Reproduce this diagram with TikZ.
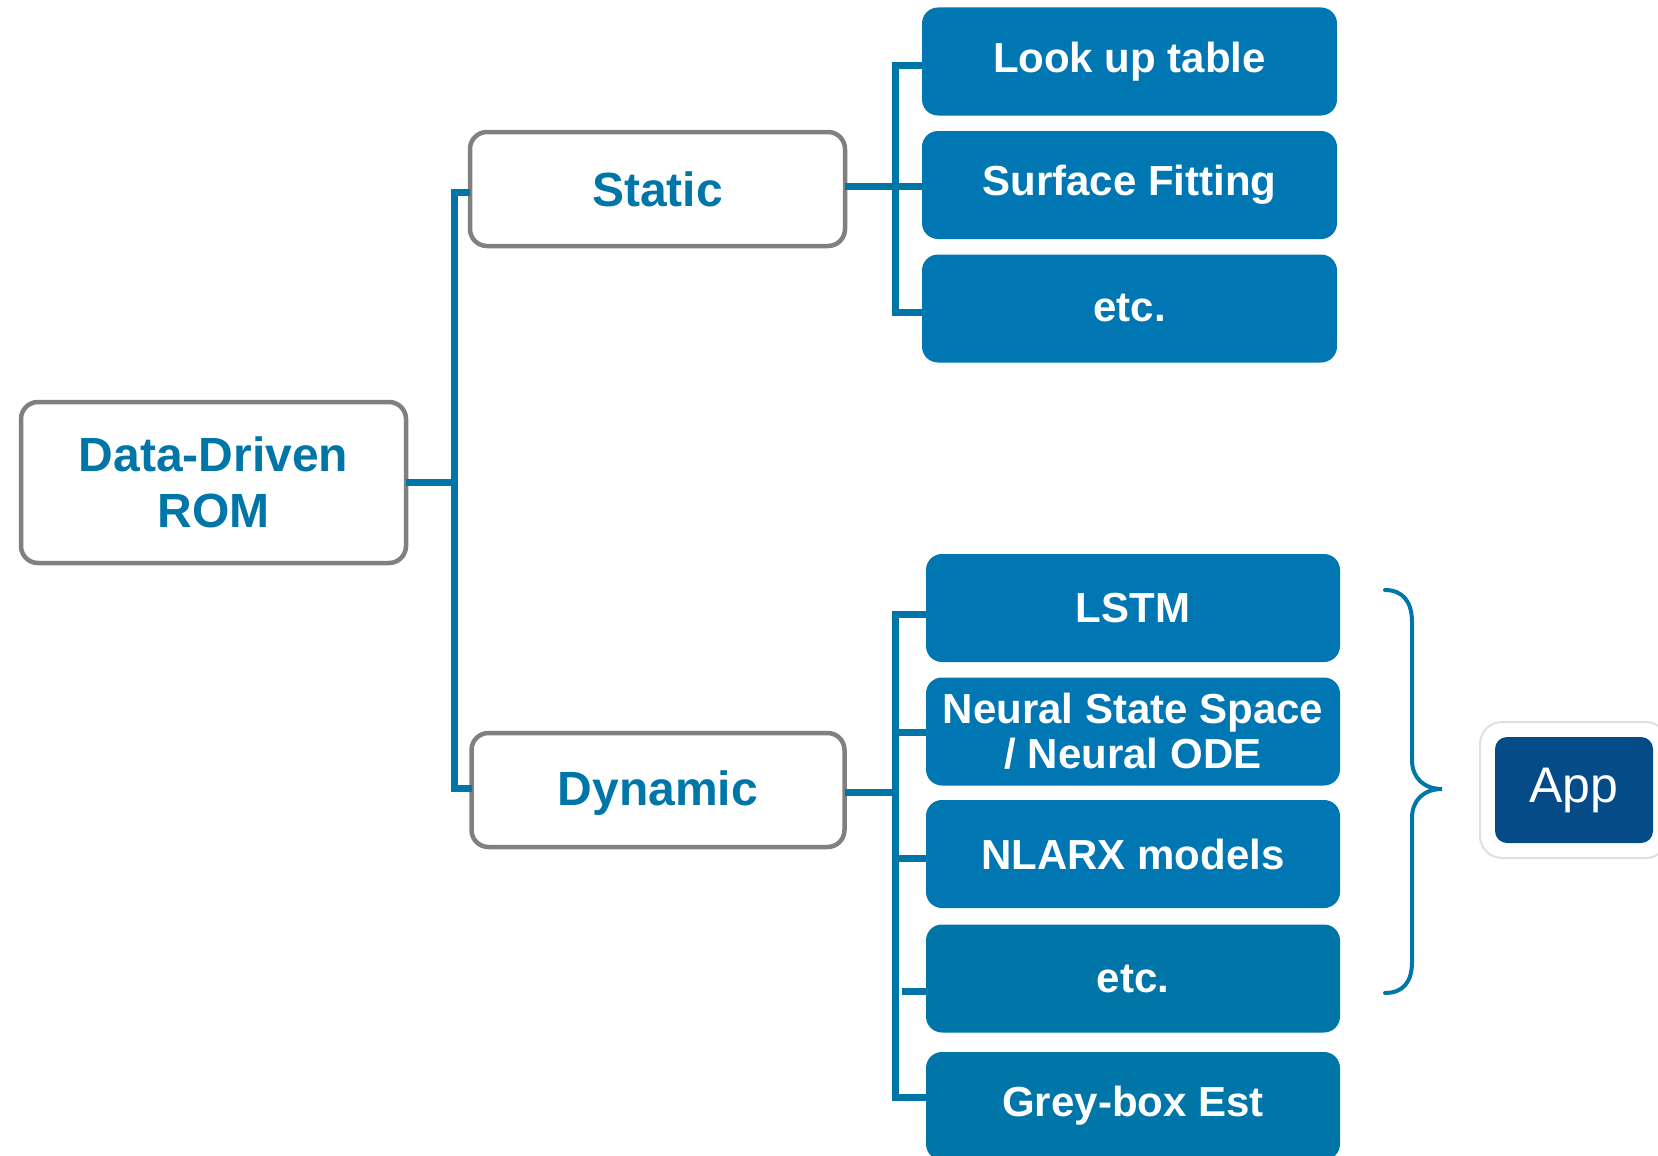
\documentclass[tikz,border=0pt]{standalone}
\usepackage{fontspec}
\setmainfont{Liberation Sans}
\definecolor{boxblue}{HTML}{0077B3}
\definecolor{boxblueb}{HTML}{0076A8}
\definecolor{txtblue}{HTML}{0076A8}
\definecolor{linblue}{HTML}{0076A8}
\definecolor{appblue}{HTML}{054B88}
\definecolor{bordergray}{HTML}{808080}
\begin{document}
\begin{tikzpicture}[x=1pt,y=-1pt,
  whitebox/.style={draw=bordergray, line width=4.5pt, fill=white, rounded corners=17pt,
    text=txtblue, font=\fontsize{48}{56}\selectfont\bfseries, align=center,
    inner sep=0pt, outer sep=0pt},
  bluebox/.style={fill=boxblue, rounded corners=16pt, text=white,
    font=\fontsize{42}{45}\selectfont\bfseries, align=center,
    minimum width=415pt, minimum height=108pt, inner sep=0pt, outer sep=0pt},
  conn/.style={draw=linblue, line width=7pt},
  bracecurve/.style={draw=linblue, line width=4pt, line cap=round}
]
\clip (0,0) rectangle (1658,1156);
\fill[white] (0,0) rectangle (1658,1156);

% root and level 1
\node[whitebox, minimum width=385pt, minimum height=161pt] (ddr) at (213.5,482.5) {Data-Driven\\ROM};
\node[whitebox, minimum width=375pt, minimum height=114pt] (static) at (657.5,189) {Static};
\node[whitebox, minimum width=373pt, minimum height=114pt, text height=40pt, text depth=10pt] (dynamic) at (658,790) {Dynamic};

% static children
\node[bluebox] (lut) at (1129.5,61.5) {Look up table};
\node[bluebox] (sf) at (1129.5,185) {Surface Fitting};
\node[bluebox] (etcs) at (1129.5,308.5) {etc.};

% dynamic children
\node[bluebox, minimum width=414pt] (lstm) at (1133,608) {LSTM};
\node[bluebox, minimum width=414pt] (nss) at (1133,731.5) {Neural State Space\\/ Neural ODE};
\node[bluebox, minimum width=414pt] (nlarx) at (1133,854) {NLARX models};
\node[bluebox, minimum width=414pt, fill=boxblueb] (etcd) at (1133,978.5) {etc.};
\node[bluebox, minimum width=414pt, fill=boxblueb] (grey) at (1133,1106) {Grey-box Est};

% App
\node[draw=black!12, line width=2pt, fill=white, rounded corners=22pt,
  minimum width=188pt, minimum height=136pt, inner sep=0pt] (appout) at (1574,790) {};
\node[fill=appblue, rounded corners=12pt, minimum width=158pt, minimum height=106pt,
  inner sep=0pt, text=white, font=\fontsize{50}{56}\selectfont] (app) at (1574,790) {App};

% junction coordinates
\coordinate (j1) at (452,482.5);
\coordinate (j2) at (895,792);

% connectors level 1
\draw[conn] (ddr.east) -- (j1);
\draw[conn] ([yshift=-3pt]static.west) -- ++(-16,0) |- ([yshift=2pt]dynamic.west);

% static bracket
\draw[conn] ([yshift=-4pt]lut.west) -- ++(-27,0) |- ([yshift=-4pt]etcs.west);
\draw[conn] ([yshift=3pt]static.east) -- ([yshift=3pt]static.east -| sf.west);

% dynamic bracket
\draw[conn] ([yshift=-6pt]lstm.west) -- ++(-31,0) |- ([yshift=9pt]grey.west);
\draw[conn] ([yshift=-1pt]nss.west) -- ++(-31,0);
\draw[conn] ([yshift=-4pt]nlarx.west) -- ++(-31,0);
\draw[conn] ([yshift=-13pt]etcd.west) -- ++(-24,0);
\draw[conn] ([yshift=-2pt]dynamic.east) -- (j2);

% curly brace
\draw[bracecurve] (1385,590) .. controls (1403,590) and (1412,602) .. (1412,622)
  -- (1412,760) .. controls (1412,778) and (1424,789) .. (1442,789)
  .. controls (1424,789) and (1412,800) .. (1412,818)
  -- (1412,962) .. controls (1412,982) and (1403,993) .. (1385,993);
\end{tikzpicture}
\end{document}
